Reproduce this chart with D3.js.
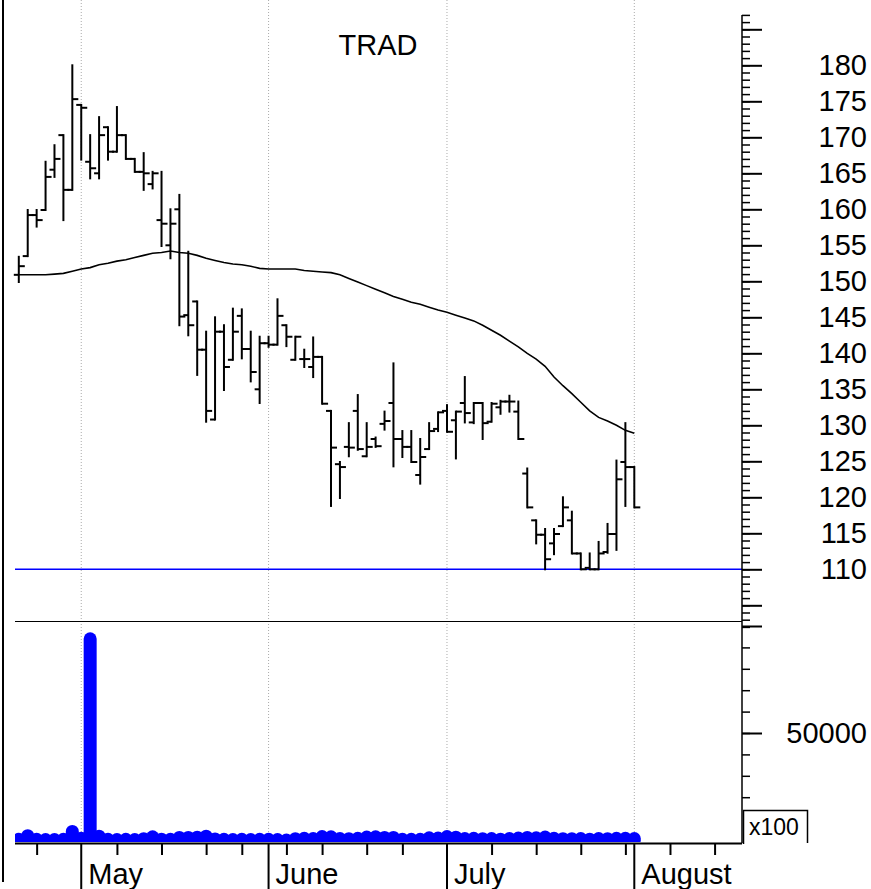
<!DOCTYPE html>
<html>
<head>
<meta charset="utf-8">
<title>TRAD</title>
<script src="https://cdn.jsdelivr.net/npm/d3@7"></script>
<style>
  body { margin: 0; background: #fff; }
  svg { display: block; font-family: "Liberation Sans", Arial, sans-serif; }
</style>
</head>
<body>
<div id="graph"></div>
<script>
// daily bars, one entry per trading day (index 0..69)
const opens  = [150.9,153.5,159.2,159.9,165.5,170.3,162.7,174.5,166.6,165.0, 171.4,168.0,170.3,167.0,165.2,163.5,158.5,155.0,160.0,145.3,
                147.2,140.5,130.8,143.0,139.1,145.2,140.6,135.0,141.4,141.2, 143.9,139.1,139.2,138.1,139.5,132.0,124.6,127.0,132.0,125.7,
                128.1,130.2,133.1,128.1,127.0,123.1,126.7,129.5,132.0,130.7, 133.1,130.4,133.1,130.5,132.5,133.3,131.9,123.3,116.8,114.8,
                113.6,116.0,116.8,112.2,110.2,110.0,112.4,114.9,124.9,124.2]
const highs  = [153.4,159.9,159.9,166.6,168.9,170.3,180.0,174.5,170.3,172.8, 171.4,174.2,170.3,167.0,167.8,165.2,165.2,160.0,162.0,154.1,
                147.2,143.0,145.0,143.9,146.2,146.1,143.0,142.3,142.3,147.5, 143.9,142.3,140.5,142.2,139.5,132.0,124.9,130.3,134.2,130.3,
                128.3,131.9,138.6,129.2,129.2,128.1,130.3,131.8,132.8,131.9, 136.7,133.1,133.1,133.1,133.4,134.1,133.3,124.0,116.8,115.6,
                115.6,120.0,118.0,112.2,112.2,113.8,116.3,125.1,130.3,124.2]
const lows   = [149.9,153.5,157.6,159.9,164.5,158.5,162.7,166.9,164.3,164.3, 166.9,168.0,167.0,165.2,162.7,162.9,154.9,153.2,143.9,142.5,
                137.0,130.5,130.8,134.9,139.1,139.3,136.1,133.1,140.9,141.2, 141.0,139.1,138.1,136.7,133.0,118.8,119.9,125.7,126.6,125.7,
                127.0,129.4,124.3,125.6,124.9,121.9,126.7,129.2,129.1,125.4, 130.4,130.3,128.1,130.5,131.6,131.9,128.1,118.6,113.6,110.0,
                112.1,116.0,112.2,110.0,110.0,110.0,112.3,112.7,118.8,118.6]
const closes = [152.1,159.2,158.5,164.5,167.0,162.7,175.3,174.1,165.7,170.3, 168.0,170.3,167.0,165.2,165.0,165.0,158.0,158.0,145.1,143.9,
                140.5,132.0,143.0,138.1,143.0,140.6,137.4,141.4,141.2,145.2, 142.3,142.3,139.2,139.5,133.0,126.9,124.2,126.9,126.7,127.0,
                127.1,130.6,128.1,127.0,124.9,125.6,129.2,131.8,129.1,131.9, 131.7,133.1,130.3,133.0,133.3,133.3,128.1,118.6,114.8,111.4,
                114.9,118.6,112.2,110.0,110.0,112.2,114.9,122.5,124.2,118.6]
// volume in hundreds of shares
const volumes = [300,2000,300,200,200,300,4000,800,94000,1800, 300,200,300,200,600,1500,400,300,1200,1200,
                 1300,1800,500,300,200,300,200,300,300,200, 0,600,800,700,1600,1500,700,600,800,1400,
                 1500,1200,1200,300,300,300,1000,900,1600,1300, 700,800,600,700,400,700,900,1200,1000,1400,
                 800,600,600,700,400,700,600,800,800,700]
const movingAvg = [150.9,150.9,150.9,150.9,151.0,151.1,151.4,151.7,151.9,152.3, 152.5,152.8,153.0,153.3,153.6,153.9,154.0,154.2,154.0,153.9,
                   153.6,153.2,152.9,152.6,152.4,152.3,152.1,151.8,151.7,151.7, 151.7,151.7,151.5,151.4,151.3,151.2,150.9,150.4,149.9,149.4,
                   148.9,148.4,147.9,147.5,147.1,146.8,146.4,146.0,145.7,145.3, 144.9,144.5,143.9,143.2,142.5,141.7,140.9,140.0,139.2,138.2,
                   136.7,135.5,134.4,133.2,132.0,131.1,130.6,130.0,129.3,128.9]
const supportLevel = 110

const monthLabels = ["May", "June", "July", "August"]
const monthStarts = [7, 28, 48, 69]
const weekTicks = [2, 11, 16, 21, 25, 30, 34, 39, 43, 53, 58, 63, 68, 73, 78]
const priceTicks = d3.range(105, 186, 5)
const priceLabels = d3.range(110, 181, 5)
const volumeTicks = [50000, 100000]
const volumeLabels = [50000]
const title = "TRAD"

const width = 871, height = 889
const left = 15, right = 742
const paneSplit = 621, bottom = 843

const x = d3.scaleLinear().domain([0, 69]).range([18.8, 634.3])
const y = d3.scaleLinear().domain([110, 180]).range([569.3, 65.3])
const yv = d3.scaleLinear().domain([0, 100000]).range([840, 626])

const svg = d3.select('#graph').append('svg')
  .attr('width', width).attr('height', height)

svg.append('defs').append('clipPath').attr('id', 'volclip')
  .append('rect').attr('x', left).attr('y', paneSplit).attr('width', right - left).attr('height', bottom - paneSplit - 1)

// month grid
svg.append('g').selectAll('line').data(monthStarts).join('line')
  .attr('x1', d => x(d)).attr('x2', d => x(d))
  .attr('y1', 0).attr('y2', bottom)
  .attr('stroke', '#aaa').attr('stroke-dasharray', '1,2')

// support line
svg.append('line')
  .attr('x1', left).attr('x2', right)
  .attr('y1', y(supportLevel)).attr('y2', y(supportLevel))
  .attr('stroke', '#0000ff').attr('stroke-width', 1.5)

// moving average
svg.append('path')
  .datum(movingAvg)
  .attr('fill', 'none').attr('stroke', '#000').attr('stroke-width', 1.6)
  .attr('d', d3.line().x((d, i) => x(i)).y(d => y(d)))

// price bars
const days = d3.range(opens.length)
const bars = svg.append('g').attr('stroke', '#000').attr('stroke-width', 2)
bars.selectAll('line.hl').data(days).join('line').attr('class', 'hl')
  .attr('x1', i => x(i)).attr('x2', i => x(i))
  .attr('y1', i => y(highs[i]) - 1).attr('y2', i => y(lows[i]) + 1)
bars.selectAll('line.op').data(days).join('line').attr('class', 'op')
  .attr('x1', i => x(i) - 5).attr('x2', i => x(i))
  .attr('y1', i => y(opens[i])).attr('y2', i => y(opens[i]))
bars.selectAll('line.cl').data(days).join('line').attr('class', 'cl')
  .attr('x1', i => x(i)).attr('x2', i => x(i) + 6)
  .attr('y1', i => y(closes[i])).attr('y2', i => y(closes[i]))

// volume
svg.append('g').attr('clip-path', 'url(#volclip)')
  .selectAll('line').data(days).join('line')
  .attr('x1', i => x(i)).attr('x2', i => x(i))
  .attr('y1', yv(0)).attr('y2', i => yv(volumes[i]))
  .attr('stroke', '#0000ff').attr('stroke-width', 13).attr('stroke-linecap', 'round')

// frame
svg.append('line').attr('x1', 3).attr('x2', 3).attr('y1', 0).attr('y2', 882)
  .attr('stroke', '#000').attr('stroke-width', 2)
svg.append('line').attr('x1', left).attr('x2', right).attr('y1', paneSplit + 0.5).attr('y2', paneSplit + 0.5)
  .attr('stroke', '#000').attr('stroke-width', 1.2)
svg.append('line').attr('x1', right).attr('x2', right).attr('y1', 15).attr('y2', bottom)
  .attr('stroke', '#000').attr('stroke-width', 1.5)

// price axis
svg.append('g').attr('transform', `translate(${right},0)`)
  .call(d3.axisRight(y).tickValues(d3.range(102, 188)).tickSize(8).tickFormat(''))
  .call(g => g.select('.domain').remove())
  .call(g => g.selectAll('line').attr('stroke-width', 1.5))
svg.append('g').attr('transform', `translate(${right},0)`)
  .call(d3.axisRight(y).tickValues(priceTicks).tickSize(20)
    .tickFormat(d => priceLabels.includes(d) ? d : ''))
  .call(g => g.select('.domain').remove())
  .call(g => g.selectAll('line').attr('stroke-width', 2))
  .call(g => g.selectAll('text').attr('x', 125).attr('text-anchor', 'end')
    .attr('font-size', 29).attr('font-family', '"Liberation Sans", Arial, sans-serif').attr('fill', '#000'))

// volume axis
svg.append('g').attr('transform', `translate(${right},0)`)
  .call(d3.axisRight(yv).tickValues(d3.range(20000, 100000, 10000)).tickSize(8).tickFormat(''))
  .call(g => g.select('.domain').remove())
  .call(g => g.selectAll('line').attr('stroke-width', 1.5))
svg.append('g').attr('transform', `translate(${right},0)`)
  .call(d3.axisRight(yv).tickValues(volumeTicks).tickSize(20)
    .tickFormat(d => volumeLabels.includes(d) ? d : ''))
  .call(g => g.select('.domain').remove())
  .call(g => g.selectAll('line').attr('stroke-width', 2))
  .call(g => g.selectAll('text').attr('x', 125).attr('text-anchor', 'end')
    .attr('font-size', 29).attr('font-family', '"Liberation Sans", Arial, sans-serif').attr('fill', '#000'))

// unit box, open at the bottom
svg.append('rect').attr('x', 743).attr('y', 810).attr('width', 64).attr('height', 34).attr('fill', '#fff')
svg.append('path').attr('d', 'M743.5,844V810.5H807.5V843')
  .attr('fill', 'none').attr('stroke', '#000').attr('stroke-width', 1.5)
svg.append('text').attr('x', 749).attr('y', 835).attr('font-size', 23).text('x100')

// time axis
svg.append('line').attr('x1', left).attr('x2', right).attr('y1', bottom + 0.5).attr('y2', bottom + 0.5)
  .attr('stroke', '#000').attr('stroke-width', 2)
svg.append('g').attr('transform', `translate(0,${bottom})`)
  .call(d3.axisBottom(x).tickValues(weekTicks).tickSize(12).tickFormat(''))
  .call(g => g.select('.domain').remove())
  .call(g => g.selectAll('line').attr('stroke-width', 2))
const months = svg.append('g')
months.selectAll('line').data(monthStarts).join('line')
  .attr('x1', d => x(d)).attr('x2', d => x(d))
  .attr('y1', bottom).attr('y2', height)
  .attr('stroke', '#000').attr('stroke-width', 2)
months.selectAll('text').data(monthStarts).join('text')
  .attr('x', d => x(d) + 7).attr('y', 884)
  .attr('font-size', 29)
  .text((d, i) => monthLabels[i])

svg.append('text').attr('x', 378).attr('y', 55).attr('text-anchor', 'middle')
  .attr('font-size', 29).text(title)
</script>
</body>
</html>
